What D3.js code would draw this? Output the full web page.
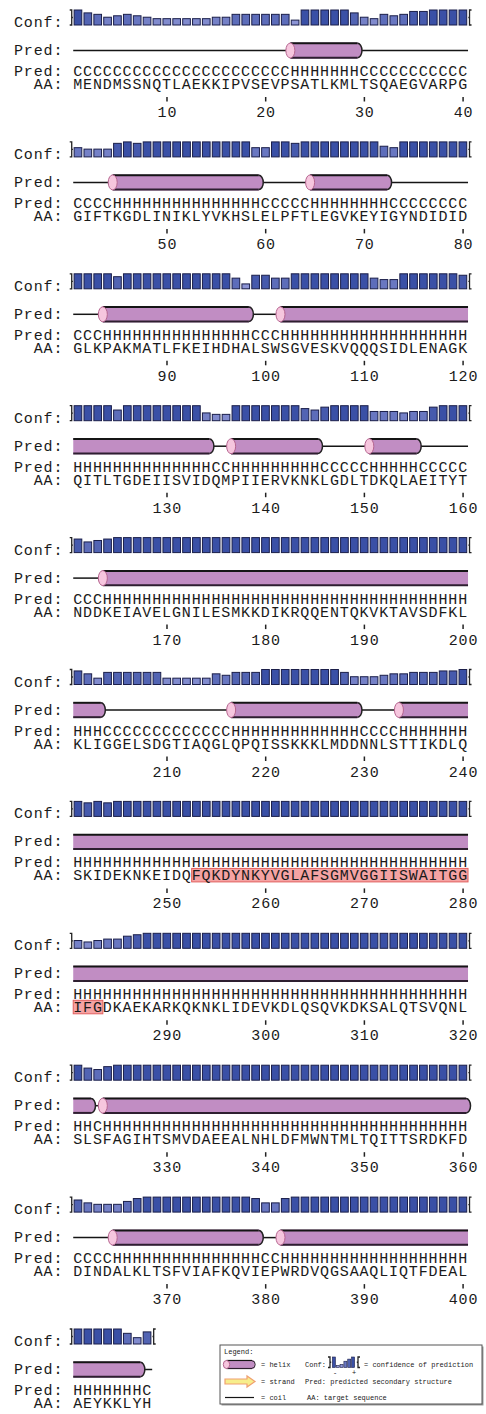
<!DOCTYPE html>
<html lang="en">
<head>
<meta charset="UTF-8">
<title>PSIPRED prediction</title>
<style>
  body { margin: 0; background: #fff; }
  svg text { font-family: "Liberation Mono", "DejaVu Sans Mono", monospace; fill: #1a1a1a; }
</style>
<script src="https://d3js.org/d3.v7.min.js"></script>
</head>
<body>
<script>
// amino acid sequence, 40 residues per row
var residues = [
  "MENDMSSNQTLAEKKIPVSEVPSATLKMLTSQAEGVARPG",
  "GIFTKGDLINIKLYVKHSLELPFTLEGVKEYIGYNDIDID",
  "GLKPAKMATLFKEIHDHALSWSGVESKVQQQSIDLENAGK",
  "QITLTGDEIISVIDQMPIIERVKNKLGDLTDKQLAEITYT",
  "NDDKEIAVELGNILESMKKDIKRQQENTQKVKTAVSDFKL",
  "KLIGGELSDGTIAQGLQPQISSKKKLMDDNNLSTTIKDLQ",
  "SKIDEKNKEIDQFQKDYNKYVGLAFSGMVGGIISWAITGG",
  "IFGDKAEKARKQKNKLIDEVKDLQSQVKDKSALQTSVQNL",
  "SLSFAGIHTSMVDAEEALNHLDFMWNTMLTQITTSRDKFD",
  "DINDALKLTSFVIAFKQVIEPWRDVQGSAAQLIQTFDEAL",
  "AEYKKLYH"
];

// predicted secondary structure (H helix, E strand, C coil)
var structure = [
  "CCCCCCCCCCCCCCCCCCCCCCHHHHHHHCCCCCCCCCCC",
  "CCCCHHHHHHHHHHHHHHHCCCCCHHHHHHHHCCCCCCCC",
  "CCCHHHHHHHHHHHHHHHCCCHHHHHHHHHHHHHHHHHHH",
  "HHHHHHHHHHHHHHCCHHHHHHHHHCCCCCHHHHHCCCCC",
  "CCCHHHHHHHHHHHHHHHHHHHHHHHHHHHHHHHHHHHHH",
  "HHHCCCCCCCCCCCCCHHHHHHHHHHHHHCCCCHHHHHHH",
  "HHHHHHHHHHHHHHHHHHHHHHHHHHHHHHHHHHHHHHHH",
  "HHHHHHHHHHHHHHHHHHHHHHHHHHHHHHHHHHHHHHHH",
  "HHCHHHHHHHHHHHHHHHHHHHHHHHHHHHHHHHHHHHHH",
  "CCCCHHHHHHHHHHHHHHHCCHHHHHHHHHHHHHHHHHHH",
  "HHHHHHHC"
];

// confidence of prediction, 0-9
var confidence = [
  [9,7,6,4,5,6,5,4,3,3, 3,3,3,3,4,4,6,6,6,6, 6,6,2,9,9,9,9,9,7,4, 3,6,5,6,8,8,9,9,9,9],
  [5,4,4,4,8,9,8,9,9,9, 9,9,9,9,9,9,9,9,5,5, 9,9,8,9,9,9,9,9,9,9, 9,6,5,9,9,9,9,9,9,9],
  [9,9,9,9,7,9,9,9,9,9, 9,9,9,9,9,9,6,2,8,8, 6,6,9,9,9,9,9,9,9,9, 6,5,5,9,9,9,9,9,9,8],
  [9,9,9,9,6,9,9,9,9,9, 9,9,9,4,3,3,9,9,9,9, 9,9,9,7,6,8,9,9,9,9, 5,5,5,4,5,5,8,9,9,9],
  [8,6,7,8,9,9,9,9,9,9, 9,9,9,9,9,9,9,9,9,9, 9,9,9,9,9,9,9,9,9,9, 9,9,9,9,9,9,9,9,9,9],
  [8,6,3,7,7,7,7,7,7,3, 3,3,3,3,6,5,7,7,7,9, 9,9,9,9,9,9,9,7,4,4, 4,5,6,6,7,7,7,8,8,9],
  [9,8,9,8,9,9,9,9,9,9, 9,9,9,9,9,9,9,9,9,9, 9,9,9,9,9,9,9,9,9,9, 9,9,9,9,9,9,9,9,9,9],
  [4,3,4,5,5,7,8,9,9,9, 9,9,9,9,9,9,9,9,9,9, 9,9,9,9,9,9,9,9,9,9, 9,9,9,9,9,9,9,9,9,9],
  [9,7,6,8,9,9,9,9,9,9, 9,9,9,9,9,9,9,9,9,9, 9,9,9,9,9,9,9,9,9,9, 9,9,9,9,9,9,9,9,9,9],
  [7,5,4,4,4,6,8,9,9,9, 9,9,9,9,9,9,9,9,8,5, 5,8,9,9,9,9,9,9,9,9, 9,9,9,9,9,9,9,9,9,9],
  [9,9,9,9,9,6,3,7]
];

// highlighted stretch of the sequence (residue numbers, inclusive)
var highlight = [253, 283];
var tickStep = 10;

var width = 486, height = 1414;
var perRow = 40, charW = 9.87, labelLeft = 14;
var seqLeft = labelLeft + 6 * charW;
var blockStep = 131.9;
var fontSize = 15;
var letterSp = charW - fontSize * 0.6;

var svg = d3.select("body").append("svg")
  .attr("width", width)
  .attr("height", height);

svg.append("rect").attr("width", width).attr("height", height).attr("fill", "#fff");

var x = d3.scaleLinear().domain([0, perRow]).range([seqLeft, seqLeft + perRow * charW]);
var barH = d3.scaleLinear().domain([0, 9]).range([2, 15]);
var barColor = d3.scaleLinear().domain([0, 9]).range(["#a4a8e2", "#3a50a6"]);

var confBase = 25, predY = 50.5, helixH = 16;
var predTextY = 76, aaTextY = 89, tickTop = 97, numY = 117;

var fullPred = structure.join("");

function monoText(g, xPos, yPos, str) {
  return g.append("text").attr("x", xPos).attr("y", yPos)
    .attr("font-size", fontSize).attr("letter-spacing", letterSp)
    .attr("xml:space", "preserve").text(str);
}

function bracket(g, xb, top, bottom, dir) {
  // dir = 1 for left "]" shape, -1 for right "[" shape
  var mid = (top + bottom) / 2;
  g.append("path")
    .attr("d", "M" + (xb - 2 * dir) + "," + top + "H" + xb + "V" + bottom + "H" + (xb - 2 * dir) +
      "M" + xb + "," + mid + "h" + (1.2 * dir))
    .attr("fill", "none").attr("stroke", "#222").attr("stroke-width", 1.3);
}

function helix(g, x0, x1, yc, h, startCap, endCap, capRx) {
  var ry = h / 2, rx = capRx;
  var d = "M" + x0 + "," + (yc - ry) + "L" + x1 + "," + (yc - ry);
  if (endCap) d += "A" + rx + "," + ry + " 0 0 1 " + x1 + "," + (yc + ry);
  else d += "L" + x1 + "," + (yc + ry);
  d += "L" + x0 + "," + (yc + ry) + "Z";
  g.append("path").attr("d", d).attr("fill", "#c18dc3");
  var lw = h > 12 ? 2 : 1.2;
  g.append("line").attr("x1", x0).attr("x2", x1).attr("y1", yc - ry + lw / 2.5).attr("y2", yc - ry + lw / 2.5)
    .attr("stroke", "#151515").attr("stroke-width", lw);
  g.append("line").attr("x1", x0).attr("x2", x1).attr("y1", yc + ry - lw / 2.5).attr("y2", yc + ry - lw / 2.5)
    .attr("stroke", "#2e1f30").attr("stroke-width", lw);
  if (endCap) {
    g.append("path")
      .attr("d", "M" + x1 + "," + (yc - ry + 0.8) + "A" + rx + "," + (ry - 0.8) + " 0 0 1 " + x1 + "," + (yc + ry - 0.8))
      .attr("fill", "none").attr("stroke", "#222").attr("stroke-width", lw * 0.75);
  }
  if (startCap) {
    g.append("ellipse").attr("cx", x0).attr("cy", yc).attr("rx", rx).attr("ry", ry - 0.5)
      .attr("fill", "#f6c6de").attr("stroke", "#b5648f").attr("stroke-width", 1);
  }
}

residues.forEach(function (seq, b) {
  var g = svg.append("g").attr("transform", "translate(0," + (b * blockStep) + ")");
  var n = seq.length;
  var offset = b * perRow;

  // labels
  monoText(g, labelLeft, 27, "Conf:");
  monoText(g, labelLeft, 55, "Pred:");

  // confidence bars
  g.selectAll("rect.conf").data(confidence[b]).join("rect")
    .attr("class", "conf")
    .attr("x", function (d, i) { return x(i) + 0.9; })
    .attr("y", function (d) { return confBase - barH(d); })
    .attr("width", charW - 2.2)
    .attr("height", function (d) { return barH(d); })
    .attr("fill", function (d) { return barColor(d); })
    .attr("stroke", "#1b1f4a")
    .attr("stroke-width", 1);
  bracket(g, x(0) - 1.5, confBase - 15, confBase, 1);
  bracket(g, x(n) + 1.5, confBase - 15, confBase, -1);

  // secondary structure runs
  var runs = [];
  for (var i = 0; i < n; i++) {
    var c = structure[b][i];
    if (runs.length && runs[runs.length - 1].type === c) runs[runs.length - 1].end = i;
    else runs.push({ type: c, start: i, end: i });
  }
  runs.filter(function (r) { return r.type === "C"; }).forEach(function (r) {
    g.append("line")
      .attr("x1", x(r.start)).attr("x2", x(r.end + 1))
      .attr("y1", predY).attr("y2", predY)
      .attr("stroke", "#151515").attr("stroke-width", 1.5);
  });
  runs.filter(function (r) { return r.type === "H"; }).forEach(function (r) {
    var gs = offset + r.start, ge = offset + r.end;
    var startCap = gs === 0 || fullPred[gs - 1] !== "H" || r.start !== 0;
    var endCap = ge === fullPred.length - 1 || fullPred[ge + 1] !== "H" || r.end !== perRow - 1;
    var x0 = x(r.start);
    var x1 = endCap ? x(r.end + 1) - 2 : x(r.end + 1);
    helix(g, x0, x1, predY, helixH, startCap, endCap, 4.5);
  });

  // highlighted residues
  var hs = Math.max(highlight[0] - 1 - offset, 0);
  var he = Math.min(highlight[1] - offset, n);
  if (he > hs) {
    g.append("rect")
      .attr("x", x(hs)).attr("y", aaTextY - 12)
      .attr("width", x(he) - x(hs)).attr("height", 13.5)
      .attr("fill", "#f5a3a3").attr("stroke", "#e2605e").attr("stroke-width", 1);
  }

  // text rows
  monoText(g, labelLeft, predTextY, "Pred: " + structure[b]);
  monoText(g, labelLeft, aaTextY, "  AA: " + seq);

  // ticks every 10 residues
  var ticks = d3.range(n).filter(function (i) { return (offset + i + 1) % tickStep === 0; });
  g.selectAll("line.tick").data(ticks).join("line")
    .attr("class", "tick")
    .attr("x1", function (i) { return x(i + 0.5); })
    .attr("x2", function (i) { return x(i + 0.5); })
    .attr("y1", tickTop).attr("y2", tickTop + 4.5)
    .attr("stroke", "#222").attr("stroke-width", 1.5);
  g.selectAll("text.num").data(ticks).join("text")
    .attr("class", "num")
    .attr("x", function (i) { return x(i + 0.5) + letterSp / 2; })
    .attr("y", numY)
    .attr("text-anchor", "middle")
    .attr("font-size", fontSize)
    .attr("letter-spacing", letterSp)
    .text(function (i) { return offset + i + 1; });
});

// legend
var lg = svg.append("g").attr("transform", "translate(220,1345)");
var lw = 262, lh = 59, lf = 7;
var ls = lw / 250;
lg.append("rect").attr("x", 1.5).attr("y", 1.5).attr("width", lw).attr("height", lh).attr("fill", "#9a9a9a");
lg.append("rect").attr("width", lw).attr("height", lh).attr("fill", "#fff").attr("stroke", "#555").attr("stroke-width", 1);
lg.append("text").attr("x", 4).attr("y", 8.5).attr("font-size", lf).text("Legend:");

helix(lg, 6.5, 32, 19.5, 9, true, true, 3.2);
lg.append("text").attr("x", 41).attr("y", 22).attr("font-size", lf).text("= helix");

// strand arrow
lg.append("path")
  .attr("d", "M5,34H27V31L35,36.5L27,42V39H5Z")
  .attr("fill", "#f7ee8c").attr("stroke", "#f0a070").attr("stroke-width", 1.2);
lg.append("text").attr("x", 41).attr("y", 39).attr("font-size", lf).text("= strand");

lg.append("line").attr("x1", 5).attr("x2", 34).attr("y1", 52.5).attr("y2", 52.5)
  .attr("stroke", "#151515").attr("stroke-width", 1.2);
lg.append("text").attr("x", 41).attr("y", 55).attr("font-size", lf).text("= coil");

lg.append("text").attr("x", 85).attr("y", 22).attr("font-size", lf).text("Conf:");
var miniConf = [9, 1, 2, 5, 7, 9];
var mx = d3.scaleLinear().domain([0, miniConf.length]).range([112, 135]);
var mh = d3.scaleLinear().domain([0, 9]).range([1, 10.5]);
lg.selectAll("rect.mini").data(miniConf).join("rect")
  .attr("class", "mini")
  .attr("x", function (d, i) { return mx(i) + 0.4; })
  .attr("y", function (d) { return 22.5 - mh(d); })
  .attr("width", 3)
  .attr("height", function (d) { return mh(d); })
  .attr("fill", function (d) { return barColor(d); })
  .attr("stroke", "#1b1f4a").attr("stroke-width", 0.6);
bracket(lg, 110, 12, 22.5, 1);
bracket(lg, 138, 12, 22.5, -1);
lg.append("text").attr("x", 113).attr("y", 30).attr("font-size", lf).text("-");
lg.append("text").attr("x", 132).attr("y", 30).attr("font-size", lf).text("+");
lg.append("text").attr("x", 144).attr("y", 22).attr("font-size", lf).text("= confidence of prediction");
lg.append("text").attr("x", 85).attr("y", 39).attr("font-size", lf).text("Pred: predicted secondary structure");
lg.append("text").attr("x", 87).attr("y", 55).attr("font-size", lf).text("AA: target sequence");
</script>
</body>
</html>
